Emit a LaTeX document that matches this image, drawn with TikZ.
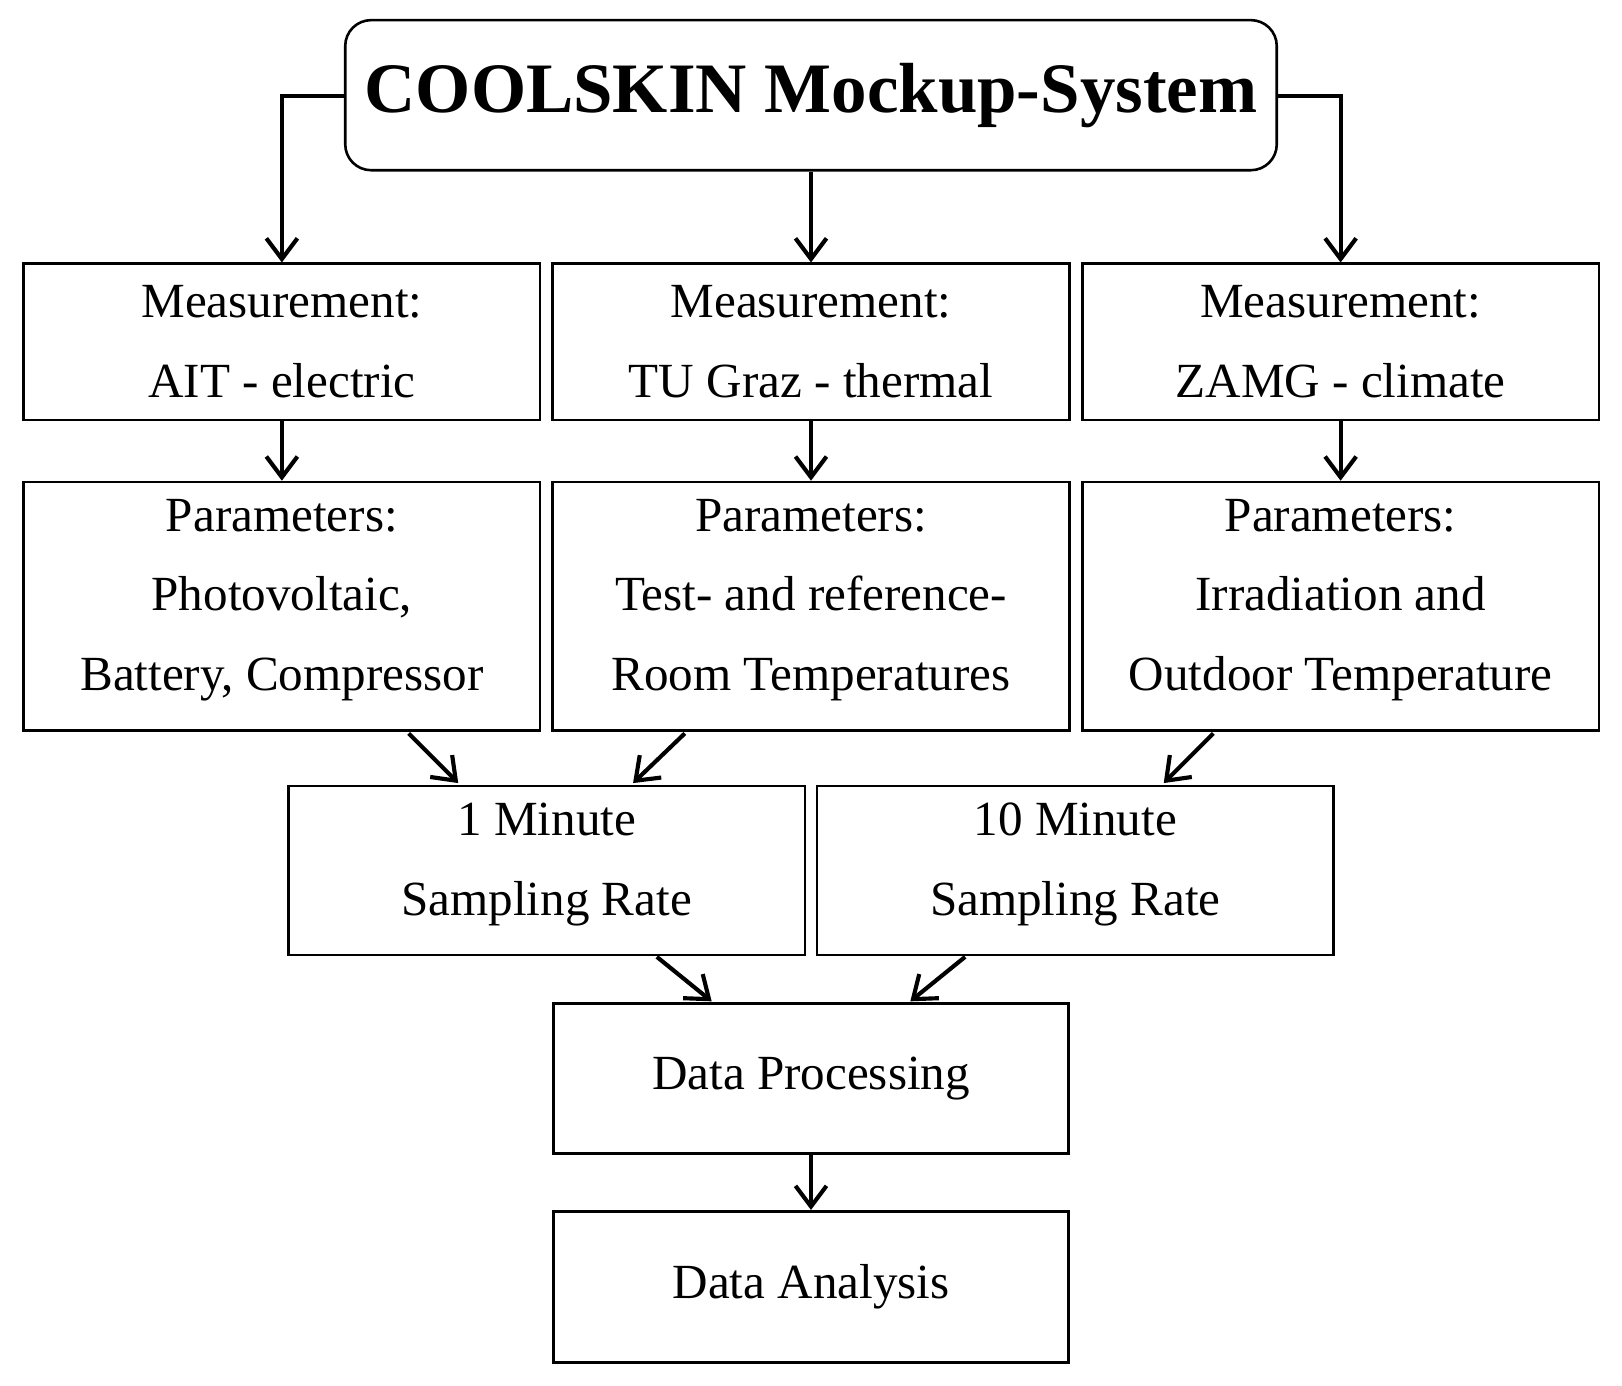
\documentclass[tikz,border=0pt]{standalone}
\usepackage{fontspec}
\setmainfont{Liberation Serif}
\usetikzlibrary{arrows.meta}
\begin{document}
\begin{tikzpicture}[x=0.01cm,y=-0.01cm,
  box/.style={draw,line width=0.025cm,align=center,inner sep=0pt,font=\fontsize{13.5}{21.9}\selectfont},
  txt/.style={font=\fontsize{13.5}{21.9}\selectfont,align=center},
  arr/.style={line width=0.04cm,-{Straight Barb[length=0.2cm,width=0.3cm,line width=0.04cm]}}]
\useasboundingbox (0,0) rectangle (1568,1339);
\node[box,rounded corners=0.25cm,minimum width=9cm,minimum height=1.45cm,font=\fontsize{19.5}{22}\selectfont\bfseries] (top) at (784,92) {COOLSKIN Mockup-System};
\foreach \n/\x in {a/272.5,b/784,c/1296}{
  \node[box,minimum width=4.99cm,minimum height=1.51cm] (m\n) at (\x,330.5) {};
  \node[box,minimum width=4.99cm,minimum height=2.4cm] (p\n) at (\x,586) {};
}
\node[txt] at (272.5,330) {Measurement:\\AIT - electric};
\node[txt] at (784,330) {Measurement:\\TU Graz - thermal};
\node[txt] at (1296,330) {Measurement:\\ZAMG - climate};
\node[txt] at (272.5,580) {Parameters:\\Photovoltaic,\\Battery, Compressor};
\node[txt] at (784,580) {Parameters:\\Test- and reference-\\Room Temperatures};
\node[txt] at (1296,580) {Parameters:\\Irradiation and\\Outdoor Temperature};
\node[box,minimum width=4.99cm,minimum height=1.63cm] (s1) at (528.5,841.5) {};
\node[box,minimum width=4.99cm,minimum height=1.63cm] (s2) at (1039.5,841.5) {};
\node[txt] at (528.5,836) {1 Minute\\Sampling Rate};
\node[txt] at (1039.5,836) {10 Minute\\Sampling Rate};
\node[box,minimum width=4.98cm,minimum height=1.45cm] (dp) at (784,1042.5) {Data Processing};
\node[box,minimum width=4.98cm,minimum height=1.46cm] (da) at (784,1244) {Data Analysis};
\draw[arr] (top.west) ++(0,1) -| (ma.north);
\draw[arr] (top.east) ++(0,1) -| (mc.north);
\draw[arr] (top.south) -- (mb.north);
\foreach \n in {a,b,c}{\draw[arr] (m\n.south) -- (p\n.north);}
\draw[arr] (395,709) -- (443,757);
\draw[arr] (662,709) -- (612,757);
\draw[arr] (1173,709) -- (1125,757);
\draw[arr] (635,925) -- (688,968);
\draw[arr] (933,925) -- (880,968);
\draw[arr] (dp.south) -- (da.north);
\end{tikzpicture}
\end{document}
